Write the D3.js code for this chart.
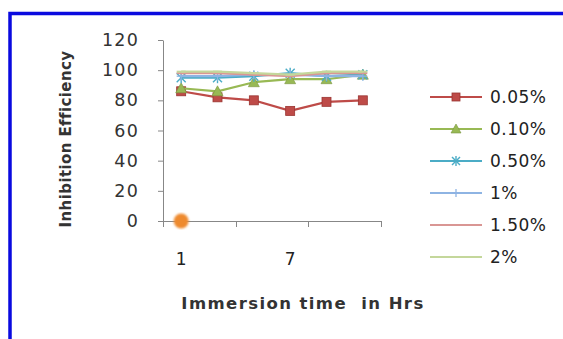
<!DOCTYPE html>
<html>
<head>
<meta charset="utf-8">
<script src="https://cdn.jsdelivr.net/npm/d3@7"></script>
<style>
  html, body { margin: 0; padding: 0; background: #fff; }
  svg { display: block; }
</style>
</head>
<body>
<svg id="chart" width="563" height="339"></svg>
<script>
// Immersion times (hours) on the category axis
const hours = [1, 3, 5, 7, 9, 11];
const shownHourLabels = [1, 7];

// Inhibition efficiency (%) per inhibitor concentration
const conc005 = [86, 82, 80, 73, 79, 80];
const conc010 = [88, 86, 92, 94, 94, 97];
const conc050 = [95, 95, 96, 98, 96, 97];
const conc1 = [96, 96, 97, 97, 96, 96];
const conc150 = [98, 98, 97, 96, 98, 98];
const conc2 = [99, 99, 98, 97, 99, 99];

// Blank point (no inhibitor)
const blankHour = [1];
const blankValue = [0];

const seriesNames = ["0.05%", "0.10%", "0.50%", "1%", "1.50%", "2%"];
const yTicks = [0, 20, 40, 60, 80, 100, 120];

const seriesValues = [conc005, conc010, conc050, conc1, conc150, conc2];
const colors = ["#be4b48", "#98b954", "#4bacc6", "#8eb4e3", "#d99694", "#c4d79b"];
const markers = ["square", "triangle", "asterisk", "plus", "dash", "dash"];

const svg = d3.select("#chart");

// outer frame
svg.append("rect")
  .attr("x", 10).attr("y", 13.5)
  .attr("width", 600).attr("height", 400)
  .attr("fill", "#fff")
  .attr("stroke", "#0a0adf").attr("stroke-width", 3.5);

const plot = { left: 163, right: 381, top: 40, bottom: 221 };

const x = d3.scaleBand().domain(hours).range([plot.left, plot.right]);
const y = d3.scaleLinear().domain([0, 120]).range([plot.bottom, plot.top]);

const axisColor = "#878787";

// y axis
const yAxis = svg.append("g")
  .attr("transform", `translate(${plot.left},0)`)
  .call(d3.axisLeft(y).tickValues(yTicks).tickSize(5).tickSizeOuter(0).tickFormat(d3.format("d")));
yAxis.select(".domain").attr("stroke", axisColor);
yAxis.selectAll(".tick line").attr("stroke", axisColor);
yAxis.selectAll(".tick text")
  .attr("x", -24)
  .attr("fill", "#333")
  .style("font-family", "DejaVu Sans, sans-serif")
  .style("font-size", "17.5px")
  .style("letter-spacing", "1.2px");

// x axis: tick marks every second category boundary
const boundaries = d3.range(0, hours.length + 1, 2);
const xg = svg.append("g");
xg.append("line")
  .attr("x1", plot.left).attr("x2", plot.right)
  .attr("y1", plot.bottom + 0.5).attr("y2", plot.bottom + 0.5)
  .attr("stroke", axisColor);
xg.selectAll("line.tk").data(boundaries).join("line")
  .attr("class", "tk")
  .attr("x1", d => Math.round(plot.left + d * x.step()) + 0.5)
  .attr("x2", d => Math.round(plot.left + d * x.step()) + 0.5)
  .attr("y1", plot.bottom).attr("y2", plot.bottom + 6)
  .attr("stroke", axisColor);
xg.selectAll("text").data(shownHourLabels).join("text")
  .attr("x", d => x(d) + x.bandwidth() / 2)
  .attr("y", 265)
  .attr("text-anchor", "middle")
  .attr("fill", "#222")
  .style("font-family", "DejaVu Sans, sans-serif")
  .style("font-size", "17px")
  .text(d => d);

// axis titles
svg.append("text")
  .attr("transform", "translate(71,139) rotate(-90)")
  .attr("text-anchor", "middle")
  .attr("fill", "#333")
  .style("font-family", "DejaVu Sans, sans-serif")
  .style("font-weight", "bold")
  .style("font-size", "15px")
  .style("letter-spacing", "0.4px")
  .text("Inhibition Efficiency");

svg.append("text")
  .attr("x", 303).attr("y", 309)
  .attr("text-anchor", "middle")
  .attr("fill", "#333")
  .style("font-family", "DejaVu Sans, sans-serif")
  .style("font-weight", "bold")
  .style("font-size", "16.5px")
  .style("letter-spacing", "1.4px")
  .style("white-space", "pre")
  .text("Immersion time  in Hrs");

const cx = d => x(d) + x.bandwidth() / 2;

function drawMarker(g, type, color, px, py, s) {
  if (type === "square") {
    g.append("rect").attr("x", px - s).attr("y", py - s)
      .attr("width", 2 * s).attr("height", 2 * s)
      .attr("fill", color).attr("stroke", "#9a3431").attr("stroke-width", 0.8);
  } else if (type === "triangle") {
    g.append("path")
      .attr("d", `M${px},${py - s - 1}L${px + s + 1},${py + s}L${px - s - 1},${py + s}Z`)
      .attr("fill", color).attr("stroke", "#7a9640").attr("stroke-width", 0.6);
  } else if (type === "asterisk") {
    const a = g.append("g").attr("stroke", color).attr("stroke-width", 1.4);
    a.append("line").attr("x1", px - s).attr("x2", px + s).attr("y1", py - s).attr("y2", py + s);
    a.append("line").attr("x1", px - s).attr("x2", px + s).attr("y1", py + s).attr("y2", py - s);
    a.append("line").attr("x1", px).attr("x2", px).attr("y1", py - s - 1).attr("y2", py + s + 1);
  } else if (type === "plus") {
    const a = g.append("g").attr("stroke", color).attr("stroke-width", 1.3);
    a.append("line").attr("x1", px).attr("x2", px).attr("y1", py - s).attr("y2", py + s);
    a.append("line").attr("x1", px - s).attr("x2", px + s).attr("y1", py).attr("y2", py);
  } else {
    g.append("line").attr("x1", px - s).attr("x2", px + s).attr("y1", py).attr("y2", py)
      .attr("stroke", color).attr("stroke-width", 2);
  }
}

const line = d3.line().x((d, i) => cx(hours[i])).y(d => y(d));

// series, drawn so higher concentrations sit on top
seriesValues.forEach((vals, k) => {
  const g = svg.append("g");
  g.append("path").datum(vals)
    .attr("d", line)
    .attr("fill", "none")
    .attr("stroke", colors[k])
    .attr("stroke-width", 2.2);
  vals.forEach((v, i) => drawMarker(g, markers[k], colors[k], cx(hours[i]), y(v), 4.5));
});

// blank point
const blur = svg.append("defs").append("filter").attr("id", "soft");
blur.append("feGaussianBlur").attr("stdDeviation", 0.8);
svg.selectAll("circle.blank").data(blankHour).join("circle")
  .attr("class", "blank")
  .attr("cx", d => cx(d))
  .attr("cy", (d, i) => y(blankValue[i]))
  .attr("r", 7.5)
  .attr("fill", "#ee8a2e")
  .attr("filter", "url(#soft)");

// legend
const legendRowY = [97, 129, 161, 193, 225, 257];
const lg = svg.append("g");
seriesNames.forEach((name, k) => {
  const ly = legendRowY[k];
  lg.append("line")
    .attr("x1", 430).attr("x2", 482).attr("y1", ly).attr("y2", ly)
    .attr("stroke", colors[k]).attr("stroke-width", 2);
  drawMarker(lg, markers[k], colors[k], 456, ly, 4);
  lg.append("text")
    .attr("x", 490).attr("y", ly + 6)
    .attr("fill", "#222")
    .style("font-family", "DejaVu Sans, sans-serif")
    .style("font-size", "17px")
    .style("letter-spacing", "0.5px")
    .text(name);
});
</script>
</body>
</html>
